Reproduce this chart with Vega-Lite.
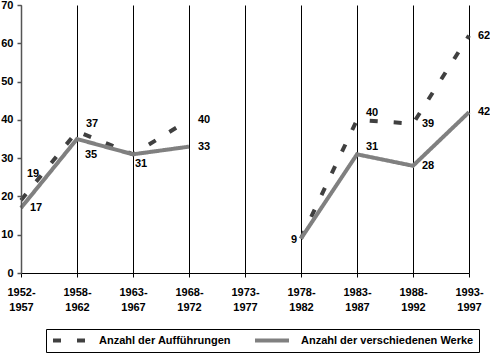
{
  "$schema": "https://vega.github.io/schema/vega-lite/v6.json",
  "width": 448,
  "height": 268,
  "autosize": "none",
  "padding": {"left": 21, "top": 5, "right": 21, "bottom": 80},
  "background": "white",
  "config": {
    "view": {"stroke": null},
    "font": "Liberation Sans",
    "legend": {
      "orient": "none",
      "legendX": 25,
      "legendY": 324,
      "direction": "horizontal",
      "strokeColor": "black",
      "fillColor": "white",
      "padding": 5,
      "symbolType": "stroke",
      "symbolSize": 1156,
      "symbolStrokeWidth": 4,
      "clipHeight": 13,
      "labelFont": "Liberation Sans",
      "labelFontWeight": "bold",
      "labelFontSize": 11,
      "labelColor": "black",
      "labelLimit": 300,
      "labelOffset": 10,
      "columnPadding": 22,
      "titleFontSize": 0
    }
  },
  "data": {
    "values": [
      {"period": "1952-1957", "serie": "Anzahl der Aufführungen", "value": 19},
      {"period": "1958-1962", "serie": "Anzahl der Aufführungen", "value": 37},
      {"period": "1963-1967", "serie": "Anzahl der Aufführungen", "value": 31},
      {"period": "1968-1972", "serie": "Anzahl der Aufführungen", "value": 40},
      {"period": "1973-1977", "serie": "Anzahl der Aufführungen", "value": null},
      {"period": "1978-1982", "serie": "Anzahl der Aufführungen", "value": 9},
      {"period": "1983-1987", "serie": "Anzahl der Aufführungen", "value": 40},
      {"period": "1988-1992", "serie": "Anzahl der Aufführungen", "value": 39},
      {"period": "1993-1997", "serie": "Anzahl der Aufführungen", "value": 62},
      {"period": "1952-1957", "serie": "Anzahl der verschiedenen Werke", "value": 17},
      {"period": "1958-1962", "serie": "Anzahl der verschiedenen Werke", "value": 35},
      {"period": "1963-1967", "serie": "Anzahl der verschiedenen Werke", "value": 31},
      {"period": "1968-1972", "serie": "Anzahl der verschiedenen Werke", "value": 33},
      {"period": "1973-1977", "serie": "Anzahl der verschiedenen Werke", "value": null},
      {"period": "1978-1982", "serie": "Anzahl der verschiedenen Werke", "value": 9},
      {"period": "1983-1987", "serie": "Anzahl der verschiedenen Werke", "value": 31},
      {"period": "1988-1992", "serie": "Anzahl der verschiedenen Werke", "value": 28},
      {"period": "1993-1997", "serie": "Anzahl der verschiedenen Werke", "value": 42}
    ]
  },
  "encoding": {
    "x": {
      "field": "period",
      "type": "ordinal",
      "scale": {
        "type": "point",
        "padding": 0,
        "domain": ["1952-1957", "1958-1962", "1963-1967", "1968-1972", "1973-1977", "1978-1982", "1983-1987", "1988-1992", "1993-1997"]
      },
      "axis": {
        "title": null,
        "labelAngle": 0,
        "labelExpr": "[slice(datum.label, 0, 5), slice(datum.label, 5)]",
        "labelFont": "Liberation Sans",
        "labelFontWeight": "bold",
        "labelFontSize": 11,
        "labelColor": "black",
        "labelPadding": 9,
        "labelLineHeight": 15,
        "tickSize": 4,
        "tickColor": "black",
        "domainColor": "black",
        "grid": true,
        "gridColor": "black",
        "gridWidth": 1,
        "gridOpacity": 1
      }
    },
    "y": {
      "field": "value",
      "type": "quantitative",
      "scale": {"domain": [0, 70], "nice": false},
      "axis": {
        "title": null,
        "values": [0, 10, 20, 30, 40, 50, 60, 70],
        "grid": false,
        "domainColor": "#555555",
        "domainWidth": 1.5,
        "tickColor": "#555555",
        "tickWidth": 1.5,
        "tickSize": 4,
        "labelFont": "Liberation Sans",
        "labelFontWeight": "bold",
        "labelFontSize": 11,
        "labelColor": "black",
        "labelPadding": 4,
        "zindex": 1
      }
    }
  },
  "layer": [
    {
      "mark": {"type": "line", "strokeWidth": 4, "invalid": "break-paths-show-domains"},
      "encoding": {
        "color": {
          "field": "serie",
          "type": "nominal",
          "scale": {"domain": ["Anzahl der Aufführungen", "Anzahl der verschiedenen Werke"], "range": ["#404040", "#808080"]},
          "legend": {"title": null}
        },
        "strokeDash": {
          "field": "serie",
          "type": "nominal",
          "scale": {"domain": ["Anzahl der Aufführungen", "Anzahl der verschiedenen Werke"], "range": [[8, 16], [1, 0]]},
          "legend": {"title": null}
        }
      }
    },
    {
      "transform": [{"filter": "(datum.serie == 'Anzahl der Aufführungen' && indexof(['1968-1972','1988-1992','1993-1997'], datum.period) >= 0) || (datum.serie == 'Anzahl der verschiedenen Werke' && indexof(['1952-1957','1968-1972','1988-1992','1993-1997'], datum.period) >= 0)"}],
      "mark": {"type": "text", "align": "left", "baseline": "middle", "dx": 9, "dy": 0, "fontWeight": "bold", "fontSize": 11, "color": "black"},
      "encoding": {"text": {"field": "value", "type": "quantitative"}}
    },
    {
      "transform": [{"filter": "(datum.serie == 'Anzahl der Aufführungen' && indexof(['1958-1962','1983-1987'], datum.period) >= 0) || (datum.serie == 'Anzahl der verschiedenen Werke' && datum.period == '1983-1987')"}],
      "mark": {"type": "text", "align": "left", "baseline": "middle", "dx": 9, "dy": -7, "fontWeight": "bold", "fontSize": 11, "color": "black"},
      "encoding": {"text": {"field": "value", "type": "quantitative"}}
    },
    {
      "transform": [{"filter": "datum.serie == 'Anzahl der Aufführungen' && datum.period == '1952-1957'"}],
      "mark": {"type": "text", "align": "left", "baseline": "middle", "dx": 6, "dy": -26, "fontWeight": "bold", "fontSize": 11, "color": "black"},
      "encoding": {"text": {"field": "value", "type": "quantitative"}}
    },
    {
      "transform": [{"filter": "datum.serie == 'Anzahl der verschiedenen Werke' && datum.period == '1958-1962'"}],
      "mark": {"type": "text", "align": "left", "baseline": "middle", "dx": 8, "dy": 16, "fontWeight": "bold", "fontSize": 11, "color": "black"},
      "encoding": {"text": {"field": "value", "type": "quantitative"}}
    },
    {
      "transform": [{"filter": "datum.serie == 'Anzahl der verschiedenen Werke' && datum.period == '1963-1967'"}],
      "mark": {"type": "text", "align": "left", "baseline": "middle", "dx": 2, "dy": 10, "fontWeight": "bold", "fontSize": 11, "color": "black"},
      "encoding": {"text": {"field": "value", "type": "quantitative"}}
    },
    {
      "transform": [{"filter": "datum.serie == 'Anzahl der verschiedenen Werke' && datum.period == '1978-1982'"}],
      "mark": {"type": "text", "align": "right", "baseline": "middle", "dx": -4, "dy": 1, "fontWeight": "bold", "fontSize": 11, "color": "black"},
      "encoding": {"text": {"field": "value", "type": "quantitative"}}
    }
  ]
}
